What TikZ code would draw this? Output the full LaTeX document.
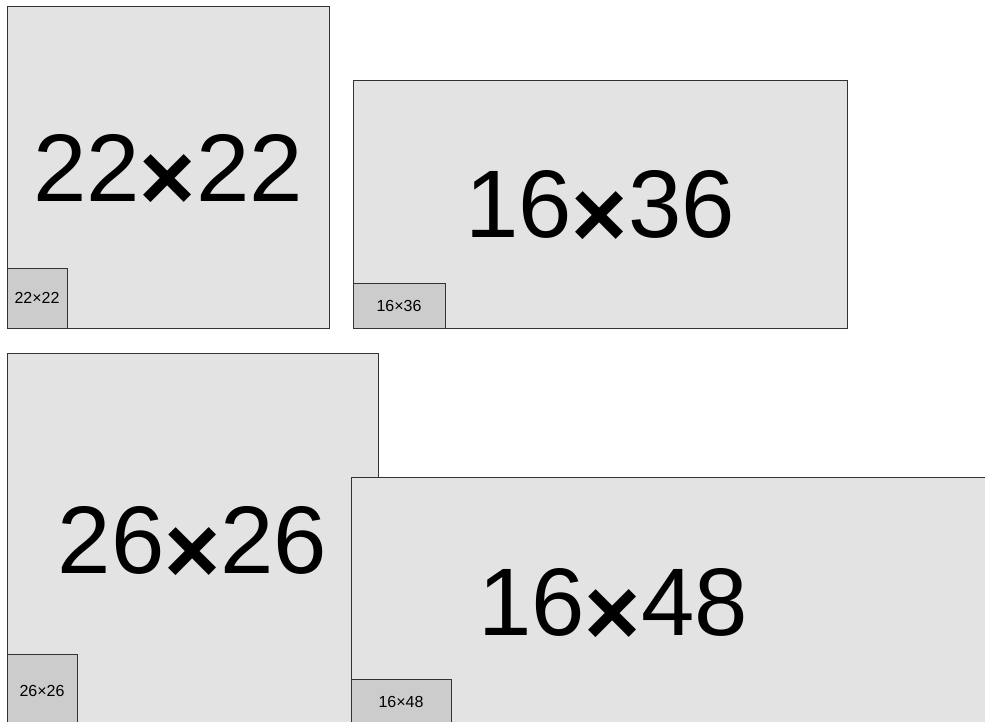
\documentclass[tikz,border=0pt]{standalone}
\usepackage{graphicx}
\usepackage{fontspec}
\setmainfont{Liberation Sans}
\newcommand{\bigmul}{\raisebox{-0.1em}[0pt][0pt]{\bfseries ×}}
\begin{document}
\begin{tikzpicture}[x=1pt,y=-1pt,
  bigbox/.style={draw=black!80,line width=1pt,fill=black!11,inner sep=0pt,font=\fontsize{96}{96}\selectfont},
  smallbox/.style={draw=black!80,line width=1pt,fill=black!20,inner sep=0pt,font=\fontsize{16}{16}\selectfont},
  bigtext/.style={inner sep=0pt,font=\fontsize{96}{96}\selectfont}]
\useasboundingbox (0,0) rectangle (985,722);
\clip (0,0) rectangle (985,722);
\node[bigbox,minimum width=322pt,minimum height=321pt] (b1) at (168,167.5) {22\bigmul22};
\node[smallbox,minimum width=60pt,minimum height=60pt] (s1) at (37,298) {22×22};
\node[bigbox,minimum width=494pt,minimum height=247pt] (b2) at (600,204.5) {16\bigmul36};
\node[smallbox,minimum width=92pt,minimum height=45pt] (s2) at (399,305.5) {16×36};
\node[bigbox,minimum width=371pt,minimum height=375pt] (b3) at (192.5,540.5) {26\bigmul26};
\node[smallbox,minimum width=70pt,minimum height=73pt] (s3) at (42,690.5) {26×26};
\node[bigbox,minimum width=649pt,minimum height=251pt] (b4) at (675.5,602.5) {};
\node[bigtext] (t4) at (613,602.5) {16\bigmul48};
\node[smallbox,minimum width=100pt,minimum height=46pt] (s4) at (401,702) {16×48};
\end{tikzpicture}
\end{document}
